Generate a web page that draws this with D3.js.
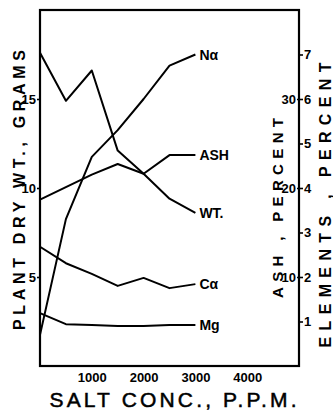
<!DOCTYPE html>
<html><head><meta charset="utf-8">
<script src="https://cdn.jsdelivr.net/npm/d3@7"></script>
<style>body{margin:0;background:#fff}svg{display:block}</style>
</head><body><svg id="c" width="333" height="412"></svg>
<script>
// Salt concentration, p.p.m.
const salt = [0, 500, 1000, 1500, 2000, 2500, 3000];
// Plant dry weight, grams (left axis)
const wt = [17.6, 14.9, 16.6, 12.1, 10.8, 9.4, 8.6];
// Ash, percent (right inner axis)
const ash = [18.7, 20.1, 21.5, 22.7, 21.6, 23.7, 23.7];
// Elements, percent (right outer axis)
const na = [0.7, 3.3, 4.7, 5.3, 6.0, 6.75, 7.0];
const ca = [2.68, 2.31, 2.07, 1.80, 1.98, 1.75, 1.84];
const mg = [1.19, 0.94, 0.92, 0.90, 0.90, 0.92, 0.92];

const xTicks = [1000, 2000, 3000, 4000];
const leftTicks = [5, 10, 15];
const ashTicks = [10, 20, 30];
const elemTicks = [1, 2, 3, 4, 5, 6, 7];

const seriesNames = ["Nα", "ASH", "WT.", "Cα", "Mg"];

const svg = d3.select("#c");
const L = 40, R = 299, T = 10, B = 366;
const x = d3.scaleLinear().domain([0, 5000]).range([L, R]);
const yL = d3.scaleLinear().domain([0, 20]).range([B, T]);
const yA = d3.scaleLinear().domain([0, 40]).range([B, T]);
const yE = d3.scaleLinear().domain([0, 8]).range([B, T]);

const FONT = "'Liberation Sans', Arial, sans-serif";

// frame
svg.append("rect").attr("x", L).attr("y", T).attr("width", R - L).attr("height", B - T)
  .attr("fill", "none").attr("stroke", "#000").attr("stroke-width", 2.2);

function styleAxis(g) {
  g.select(".domain").remove();
  g.selectAll("line").attr("stroke", "#000").attr("stroke-width", 1.6);
  g.selectAll("text").attr("font-family", FONT).attr("font-weight", "bold")
    .attr("font-size", 13).attr("fill", "#000");
}

svg.append("g").attr("transform", `translate(0,${B})`)
  .call(d3.axisBottom(x).tickValues(xTicks).tickSize(0).tickPadding(7).tickFormat(d3.format("d")))
  .call(styleAxis);

svg.append("g").attr("transform", `translate(${L},0)`)
  .call(d3.axisLeft(yL).tickValues(leftTicks).tickSize(3).tickPadding(1).tickFormat(d3.format("d")))
  .call(styleAxis);

svg.append("g").attr("transform", `translate(${R},0)`)
  .call(d3.axisLeft(yA).tickValues(ashTicks).tickSize(2).tickPadding(1).tickFormat(d3.format("d")))
  .call(styleAxis);

svg.append("g").attr("transform", `translate(${R},0)`)
  .call(d3.axisRight(yE).tickValues(elemTicks).tickSize(4).tickPadding(1).tickFormat(d3.format("d")))
  .call(styleAxis);

// series lines
const series = [
  { name: seriesNames[0], vals: na, y: yE },
  { name: seriesNames[1], vals: ash, y: yA },
  { name: seriesNames[2], vals: wt, y: yL },
  { name: seriesNames[3], vals: ca, y: yE },
  { name: seriesNames[4], vals: mg, y: yE }
];

series.forEach(s => {
  const line = d3.line().x((d, i) => x(salt[i])).y(d => s.y(d));
  svg.append("path").datum(s.vals).attr("d", line)
    .attr("fill", "none").attr("stroke", "#000").attr("stroke-width", 2)
    .attr("stroke-linejoin", "round");
  const last = s.vals.length - 1;
  svg.append("text")
    .attr("x", x(salt[last]) + 4)
    .attr("y", s.y(s.vals[last]) + 5)
    .attr("font-family", FONT).attr("font-weight", "bold").attr("font-size", 14)
    .text(s.name);
});

// axis titles
svg.append("text")
  .attr("transform", "translate(25,190) rotate(-90)")
  .attr("text-anchor", "middle")
  .attr("font-family", FONT).attr("font-weight", "bold").attr("font-size", 16)
  .attr("textLength", 280).attr("lengthAdjust", "spacing")
  .text("PLANT  DRY  WT., GRAMS");

svg.append("text")
  .attr("transform", "translate(283,208) rotate(-90)")
  .attr("text-anchor", "middle")
  .attr("font-family", FONT).attr("font-weight", "bold").attr("font-size", 15)
  .attr("textLength", 180).attr("lengthAdjust", "spacing")
  .text("ASH , PERCENT");

svg.append("text")
  .attr("transform", "translate(331,205) rotate(-90)")
  .attr("text-anchor", "middle")
  .attr("font-family", FONT).attr("font-weight", "bold").attr("font-size", 16)
  .attr("textLength", 285).attr("lengthAdjust", "spacing")
  .text("ELEMENTS , PERCENT");

svg.append("text")
  .attr("x", 173).attr("y", 407)
  .attr("text-anchor", "middle")
  .attr("font-family", FONT).attr("font-size", 21)
  .attr("stroke", "#000").attr("stroke-width", 0.5)
  .attr("textLength", 247).attr("lengthAdjust", "spacing")
  .text("SALT CONC., P.P.M.");
</script>
</body></html>
